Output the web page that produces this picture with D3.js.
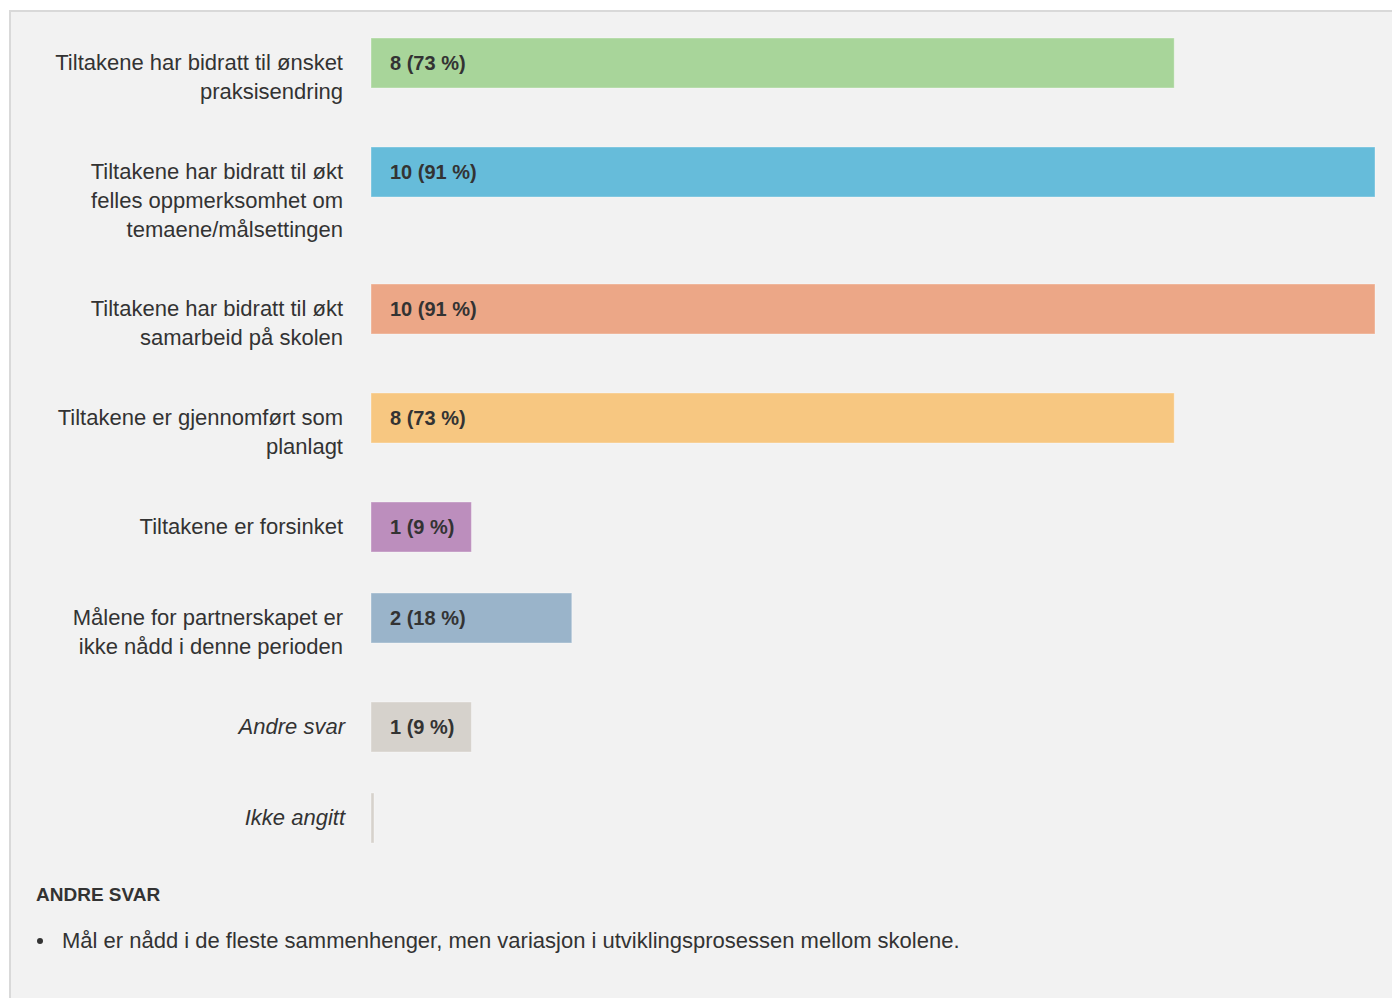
<!DOCTYPE html>
<html>
<head>
<meta charset="utf-8">
<script src="https://cdn.jsdelivr.net/npm/d3@7/dist/d3.min.js"></script>
<style>
  html, body { margin: 0; padding: 0; background: #ffffff; }
  svg { display: block; font-family: "Liberation Sans", Arial, sans-serif; }
</style>
</head>
<body>
<svg id="chart" width="1392" height="998"></svg>
<script>
// ---- data ----
const categories = [
  ["Tiltakene har bidratt til ønsket", "praksisendring"],
  ["Tiltakene har bidratt til økt", "felles oppmerksomhet om", "temaene/målsettingen"],
  ["Tiltakene har bidratt til økt", "samarbeid på skolen"],
  ["Tiltakene er gjennomført som", "planlagt"],
  ["Tiltakene er forsinket"],
  ["Målene for partnerskapet er", "ikke nådd i denne perioden"],
  ["Andre svar"],
  ["Ikke angitt"]
];
const counts   = [8, 10, 10, 8, 1, 2, 1, 0];
const percents = [73, 91, 91, 73, 9, 18, 9, 0];
const italicRows = [false, false, false, false, false, false, true, true];
const colors = ["#a8d59a", "#66bcda", "#eca787", "#f7c781", "#bc8ebd", "#9ab4ca", "#d6d2cc", "#d6d2cc"];
const otherTitle = "ANDRE SVAR";
const otherAnswers = ["Mål er nådd i de fleste sammenhenger, men variasjon i utviklingsprosessen mellom skolene."];

// ---- layout ----
const W = 1392, H = 998;
const barH = 50, lineH = 29;
const firstTop = 38;
const svg = d3.select("#chart");

// panel
svg.append("rect").attr("x", 10).attr("y", 11).attr("width", W).attr("height", H)
  .attr("fill", "#f2f2f2").attr("stroke", "#d9d9d9").attr("stroke-width", 2);

const x = d3.scaleLinear().domain([0, 10]).range([371, 1375]);

// row offsets derived from number of label lines
const tops = [];
let acc = firstTop;
categories.forEach((lines) => {
  tops.push(acc);
  acc += Math.max(barH + 41, lines.length * 28 + 53);
});
const keys = categories.map((c, i) => i);
const y = d3.scaleOrdinal().domain(keys).range(tops);

const rows = svg.append("g").selectAll("g.row").data(keys).join("g").attr("class", "row");

rows.append("rect")
  .attr("x", x(0))
  .attr("y", i => y(i))
  .attr("width", i => Math.max(3, x(counts[i]) - x(0)))
  .attr("height", barH)
  .attr("fill", i => colors[i])
  .attr("stroke", "rgba(255,255,255,0.35)")
  .attr("stroke-width", 1);

rows.filter(i => counts[i] > 0).append("text")
  .attr("x", x(0) + 19)
  .attr("y", i => y(i) + barH / 2 + 7)
  .attr("font-size", 20)
  .attr("font-weight", "bold")
  .attr("fill", "#333")
  .text(i => `${counts[i]} (${percents[i]} %)`);

rows.append("text")
  .attr("text-anchor", "end")
  .attr("font-size", 22)
  .attr("fill", "#333")
  .attr("font-style", i => italicRows[i] ? "italic" : "normal")
  .each(function (i) {
    const t = d3.select(this);
    categories[i].forEach((ln, k) => {
      t.append("tspan")
        .attr("x", italicRows[i] ? 345 : 343)
        .attr("y", y(i) + barH / 2 + 7 + k * lineH)
        .text(ln);
    });
  });

// other answers
svg.append("text").attr("x", 36).attr("y", 901)
  .attr("font-size", 19).attr("font-weight", "bold").attr("fill", "#333")
  .text(otherTitle);

const items = svg.append("g").selectAll("g").data(otherAnswers).join("g");
items.append("circle").attr("cx", 40).attr("cy", (d, k) => 941 + k * 30).attr("r", 3).attr("fill", "#333");
items.append("text").attr("x", 62).attr("y", (d, k) => 948 + k * 30)
  .attr("font-size", 22).attr("fill", "#333").text(d => d);
</script>
</body>
</html>
